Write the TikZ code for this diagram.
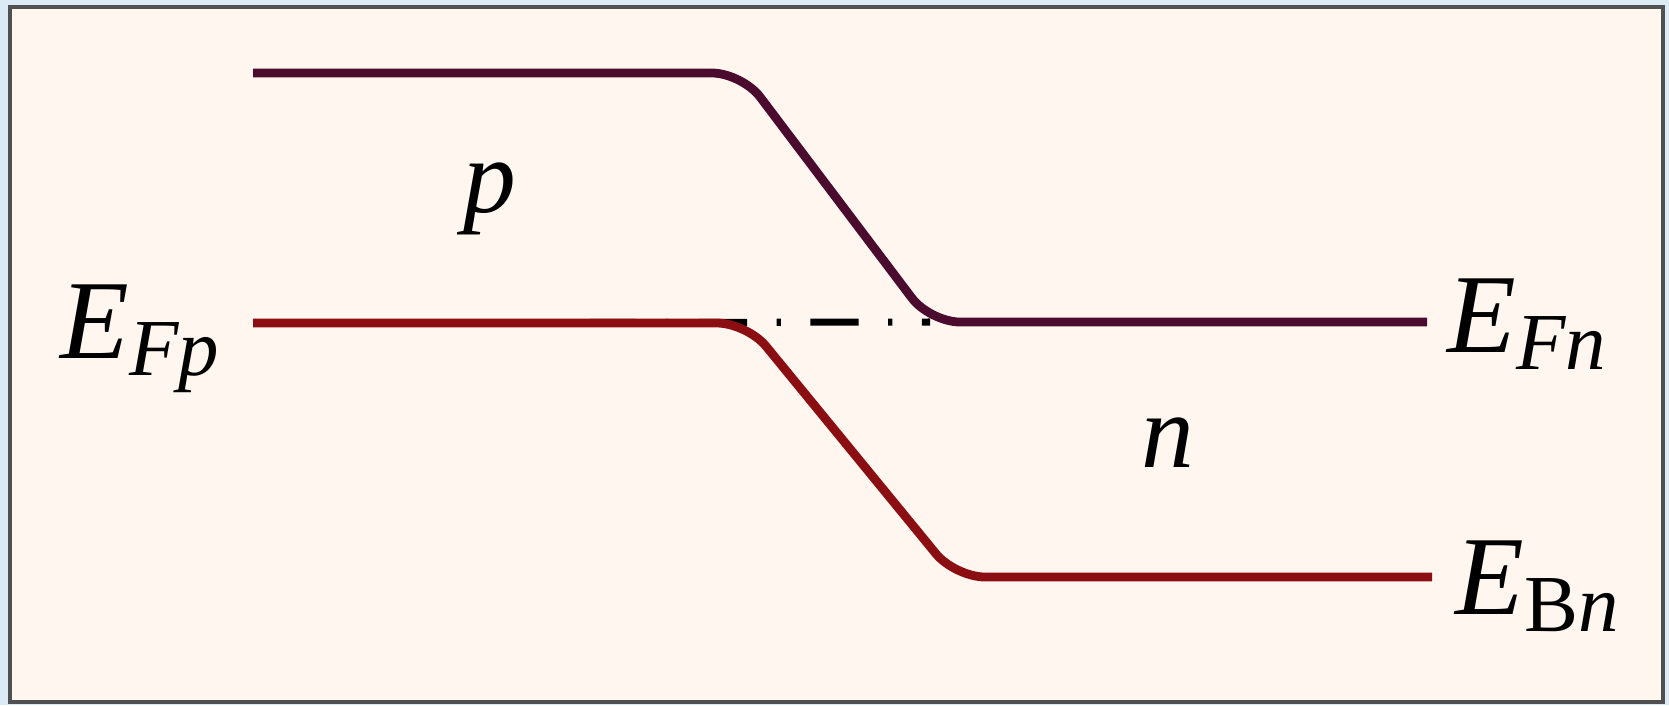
\documentclass[tikz,border=0pt]{standalone}
\usepackage{fontspec}
\setmainfont{Liberation Serif}
\usetikzlibrary{positioning}
\definecolor{bandtop}{RGB}{75,11,46}
\definecolor{bandlow}{RGB}{138,14,18}
\definecolor{paper}{RGB}{255,246,240}
\definecolor{edgeblue}{RGB}{220,234,246}
\definecolor{framegray}{RGB}{80,80,80}
% level label: italic E with a lowered subscript
\newcommand{\lvlname}[1]{\textit{E}\raisebox{-5pt}{\fontsize{23}{23}\selectfont #1}}

\begin{document}
\begin{tikzpicture}[x=0.01cm, y=-0.01cm,
		lvl/.style={inner sep=0pt, anchor=base west, font=\fontsize{32}{34}\selectfont},
		side/.style={inner sep=0pt, anchor=base, font=\fontsize{30}{32}\selectfont\itshape},
		band/.style={line width=2.5pt, rounded corners=0.3cm, line join=round},
		fermi/.style={line width=2pt, black, dash pattern=on 13.7pt off 8.4pt on 1.2pt off 8.4pt}]
		\useasboundingbox[fill=edgeblue] (0,0) rectangle (1669,705);
		\draw[framegray, line width=1.4pt, fill=paper] (10,7) rectangle (1663,702);
		% corners of the two band edges
		\coordinate (tl) at (253,73);
		\coordinate (tb) at (742,73);
		\coordinate (te) at (930,322);
		\coordinate (tr) at (1427,322);
		\coordinate (ll) at (253,323);
		\coordinate (lb) at (747,323);
		\coordinate (le) at (955,577);
		\coordinate (lr) at (1432,577);
		\draw[fermi] (ll) -- (te);
		\draw[band, bandtop] (tl) -- (tb) -- (te) -- (tr);
		\draw[band, bandlow] (ll) -- (lb) -- (le) -- (lr);
		\node[lvl] (efp) at (60,358) {\lvlname{\textit{Fp}}};
		\node[lvl] (efn) at (1447,352) {\lvlname{\textit{Fn}}};
		\node[lvl] (ebn) at (1455,614) {\lvlname{B\textit{n}}};
		\node[side] (plab) at (490,212) {p};
		\node[side] (nlab) at (1168,467) {n};
	\end{tikzpicture}
\end{document}
